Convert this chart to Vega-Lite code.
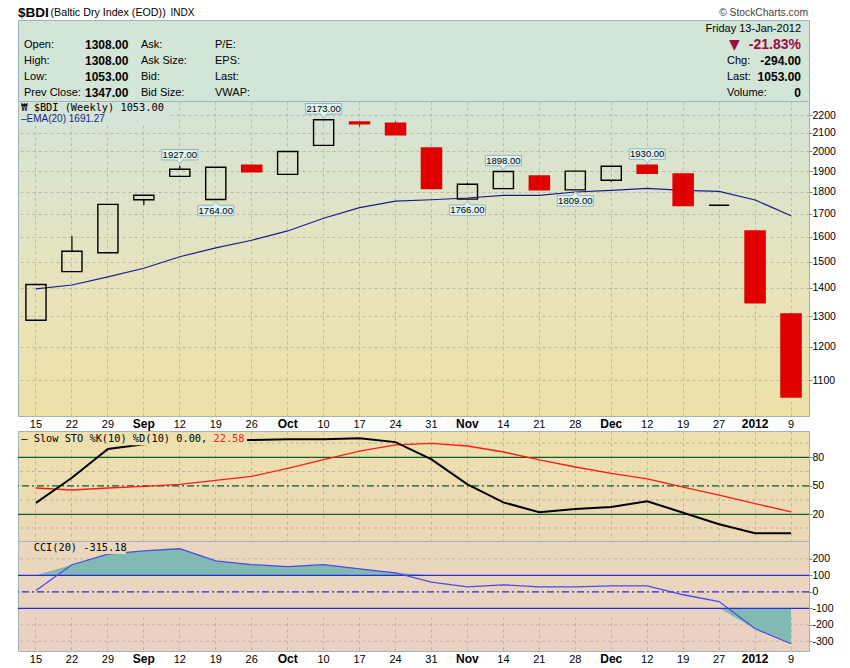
{
  "$schema": "https://vega.github.io/schema/vega-lite/v6.json",
  "background": "white",
  "padding": {"left": 16, "top": 5, "right": 0, "bottom": 0},
  "spacing": 0,
  "bounds": "flush",
  "config": {
    "font": "Liberation Sans",
    "view": {"stroke": "#9fb5bb", "strokeWidth": 1},
    "axis": {"labelFont": "Liberation Sans", "labelColor": "#000000", "labelFontSize": 10.5}
  },
  "datasets": {
    "weeks": [
      {"week": "08-15", "open": 1287, "high": 1413, "low": 1287, "close": 1413, "ema": 1397, "k": 32, "d": 47.7, "cci": 8},
      {"week": "08-22", "open": 1461, "high": 1604, "low": 1461, "close": 1541, "ema": 1411, "k": 58.5, "d": 45.6, "cci": 164},
      {"week": "08-29", "open": 1535, "high": 1742, "low": 1535, "close": 1742, "ema": 1441, "k": 88.7, "d": 47.7, "cci": 228},
      {"week": "09-05", "open": 1763, "high": 1784, "low": 1739, "close": 1784, "ema": 1474, "k": 93.7, "d": 49.5, "cci": 248},
      {"week": "09-12", "open": 1874, "high": 1927, "low": 1874, "close": 1909, "ema": 1519, "k": 96, "d": 51.6, "cci": 261},
      {"week": "09-19", "open": 1764, "high": 1919, "low": 1764, "close": 1919, "ema": 1555, "k": 97.5, "d": 55.8, "cci": 188},
      {"week": "09-26", "open": 1930, "high": 1930, "low": 1897, "close": 1897, "ema": 1586, "k": 98.2, "d": 60, "cci": 165},
      {"week": "10-03", "open": 1884, "high": 2000, "low": 1884, "close": 2000, "ema": 1625, "k": 98.9, "d": 68.4, "cci": 153},
      {"week": "10-10", "open": 2032, "high": 2173, "low": 2032, "close": 2173, "ema": 1680, "k": 98.9, "d": 77.5, "cci": 165},
      {"week": "10-17", "open": 2160, "high": 2160, "low": 2134, "close": 2150, "ema": 1727, "k": 100, "d": 86.6, "cci": 139},
      {"week": "10-24", "open": 2154, "high": 2163, "low": 2089, "close": 2089, "ema": 1757, "k": 96, "d": 93, "cci": 115},
      {"week": "10-31", "open": 2018, "high": 2018, "low": 1815, "close": 1815, "ema": 1763, "k": 77.9, "d": 94.7, "cci": 58},
      {"week": "11-07", "open": 1766, "high": 1843, "low": 1766, "close": 1836, "ema": 1771, "k": 51.6, "d": 91.9, "cci": 30},
      {"week": "11-14", "open": 1815, "high": 1898, "low": 1815, "close": 1898, "ema": 1783, "k": 32.6, "d": 85.6, "cci": 42},
      {"week": "11-21", "open": 1876, "high": 1876, "low": 1810, "close": 1810, "ema": 1783, "k": 22.1, "d": 77.2, "cci": 30},
      {"week": "11-28", "open": 1809, "high": 1900, "low": 1809, "close": 1900, "ema": 1799, "k": 25.6, "d": 69.8, "cci": 30},
      {"week": "12-05", "open": 1855, "high": 1924, "low": 1847, "close": 1924, "ema": 1807, "k": 27.7, "d": 63.2, "cci": 36},
      {"week": "12-12", "open": 1930, "high": 1930, "low": 1889, "close": 1889, "ema": 1816, "k": 33.7, "d": 57.2, "cci": 36},
      {"week": "12-19", "open": 1886, "high": 1886, "low": 1736, "close": 1736, "ema": 1807, "k": 21.7, "d": 48.7, "cci": -18},
      {"week": "12-27", "open": 1738, "high": 1738, "low": 1738, "close": 1738, "ema": 1802, "k": 9.5, "d": 40.3, "cci": -59},
      {"week": "01-03", "open": 1625, "high": 1625, "low": 1347, "close": 1347, "ema": 1762, "k": 0, "d": 31.2, "cci": -224},
      {"week": "01-09", "open": 1308, "high": 1308, "low": 1053, "close": 1053, "ema": 1691, "k": 0, "d": 22.58, "cci": -315}
    ],
    "callouts": [
      {"week": "09-12", "value": 1927, "pos": "above"},
      {"week": "09-19", "value": 1764, "pos": "below"},
      {"week": "10-10", "value": 2173, "pos": "above"},
      {"week": "11-07", "value": 1766, "pos": "below"},
      {"week": "11-14", "value": 1898, "pos": "above"},
      {"week": "11-28", "value": 1809, "pos": "below"},
      {"week": "12-12", "value": 1930, "pos": "above"}
    ],
    "info": [
      {"col": "t1", "row": -1.02, "text": "$BDI"},
      {"col": "t2", "row": -1.02, "text": "(Baltic Dry Index (EOD))"},
      {"col": "t3", "row": -1.02, "text": "INDX"},
      {"col": "cr", "row": -1.02, "text": "© StockCharts.com"},
      {"col": "k1", "row": 1, "text": "Open:"},
      {"col": "k1", "row": 2, "text": "High:"},
      {"col": "k1", "row": 3, "text": "Low:"},
      {"col": "k1", "row": 4, "text": "Prev Close:"},
      {"col": "v1", "row": 1, "text": "1308.00"},
      {"col": "v1", "row": 2, "text": "1308.00"},
      {"col": "v1", "row": 3, "text": "1053.00"},
      {"col": "v1", "row": 4, "text": "1347.00"},
      {"col": "k2", "row": 1, "text": "Ask:"},
      {"col": "k2", "row": 2, "text": "Ask Size:"},
      {"col": "k2", "row": 3, "text": "Bid:"},
      {"col": "k2", "row": 4, "text": "Bid Size:"},
      {"col": "k3", "row": 1, "text": "P/E:"},
      {"col": "k3", "row": 2, "text": "EPS:"},
      {"col": "k3", "row": 3, "text": "Last:"},
      {"col": "k3", "row": 4, "text": "VWAP:"},
      {"col": "date", "row": 0, "text": "Friday  13-Jan-2012"},
      {"col": "pct", "row": 1, "text": "-21.83%"},
      {"col": "arrow", "row": 1, "text": "▼"},
      {"col": "rk", "row": 2, "text": "Chg:"},
      {"col": "rk", "row": 3, "text": "Last:"},
      {"col": "rk", "row": 4, "text": "Volume:"},
      {"col": "rv", "row": 2, "text": "-294.00"},
      {"col": "rv", "row": 3, "text": "1053.00"},
      {"col": "rv", "row": 4, "text": "0"}
    ],
    "stoLevels": [
      {"lv": 80, "style": "solid"},
      {"lv": 50, "style": "dashdot"},
      {"lv": 20, "style": "solid"}
    ]
  },
  "vconcat": [
    {
      "width": 791,
      "height": 81,
      "view": {"fill": "#d3e5d7"},
      "data": {"name": "info"},
      "encoding": {
        "y": {"field": "row", "type": "quantitative", "scale": {"domain": [-0.5625, 4.5], "reverse": true, "nice": false, "zero": false}, "axis": null},
        "text": {"field": "text"}
      },
      "layer": [
        {"transform": [{"filter": "datum.col == 't1'"}], "mark": {"type": "text", "align": "left", "fontSize": 13.5, "fontWeight": "bold"},
         "encoding": {"x": {"datum": 0, "type": "quantitative", "scale": {"domain": [0, 791], "nice": false, "zero": false}, "axis": null}}},
        {"transform": [{"filter": "datum.col == 't2'"}], "mark": {"type": "text", "align": "left", "fontSize": 10.7},
         "encoding": {"x": {"datum": 32.5, "type": "quantitative"}}},
        {"transform": [{"filter": "datum.col == 't3'"}], "mark": {"type": "text", "align": "left", "fontSize": 10},
         "encoding": {"x": {"datum": 152.5, "type": "quantitative"}}},
        {"transform": [{"filter": "datum.col == 'cr'"}], "mark": {"type": "text", "align": "right", "fontSize": 10.3, "color": "#444444"},
         "encoding": {"x": {"datum": 790, "type": "quantitative"}}},
        {"transform": [{"filter": "datum.col == 'k1'"}], "mark": {"type": "text", "align": "left", "fontSize": 11},
         "encoding": {"x": {"datum": 6, "type": "quantitative"}}},
        {"transform": [{"filter": "datum.col == 'v1'"}], "mark": {"type": "text", "align": "left", "fontSize": 12, "fontWeight": "bold"},
         "encoding": {"x": {"datum": 67, "type": "quantitative"}}},
        {"transform": [{"filter": "datum.col == 'k2'"}], "mark": {"type": "text", "align": "left", "fontSize": 11},
         "encoding": {"x": {"datum": 123, "type": "quantitative"}}},
        {"transform": [{"filter": "datum.col == 'k3'"}], "mark": {"type": "text", "align": "left", "fontSize": 11},
         "encoding": {"x": {"datum": 197, "type": "quantitative"}}},
        {"transform": [{"filter": "datum.col == 'date'"}], "mark": {"type": "text", "align": "right", "fontSize": 11},
         "encoding": {"x": {"datum": 783, "type": "quantitative"}}},
        {"transform": [{"filter": "datum.col == 'pct'"}], "mark": {"type": "text", "align": "right", "fontSize": 14, "fontWeight": "bold", "color": "#9c0b3f"},
         "encoding": {"x": {"datum": 783, "type": "quantitative"}}},
        {"transform": [{"filter": "datum.col == 'arrow'"}], "mark": {"type": "text", "align": "center", "fontSize": 14, "font": "DejaVu Sans", "color": "#9c0b3f"},
         "encoding": {"x": {"datum": 716.5, "type": "quantitative"}}},
        {"transform": [{"filter": "datum.col == 'rk'"}], "mark": {"type": "text", "align": "left", "fontSize": 11},
         "encoding": {"x": {"datum": 709, "type": "quantitative"}}},
        {"transform": [{"filter": "datum.col == 'rv'"}], "mark": {"type": "text", "align": "right", "fontSize": 12, "fontWeight": "bold"},
         "encoding": {"x": {"datum": 783, "type": "quantitative"}}}
      ]
    },
    {
      "width": 791,
      "height": 315,
      "view": {"fill": {"gradient": "linear", "x1": 0, "y1": 0, "x2": 0, "y2": 1, "stops": [{"offset": 0, "color": "#d3e4d7"}, {"offset": 0.5, "color": "#e5e3bf"}, {"offset": 1, "color": "#eee1a7"}]}},
      "data": {"name": "weeks"},
      "encoding": {
        "x": {
          "field": "week", "type": "ordinal",
          "scale": {"type": "band", "domain": ["08-15","08-22","08-29","09-05","09-12","09-19","09-26","10-03","10-10","10-17","10-24","10-31","11-07","11-14","11-21","11-28","12-05","12-12","12-19","12-27","01-03","01-09"], "paddingInner": 0.44, "paddingOuter": 0.22},
          "axis": {
            "orient": "bottom", "title": null, "grid": true, "gridDash": [3, 3], "gridColor": "#b9bca6", "bandPosition": 0.5,
            "domain": false, "ticks": false, "labelPadding": 2, "labelAngle": 0,
            "labelExpr": "datum.value == '09-05' ? 'Sep' : datum.value == '10-03' ? 'Oct' : datum.value == '11-07' ? 'Nov' : datum.value == '12-05' ? 'Dec' : datum.value == '01-03' ? '2012' : '' + toNumber(substring(datum.value, 3, 5))",
            "labelFontWeight": {"condition": {"test": "indexof(['09-05','10-03','11-07','12-05','01-03'], datum.value) >= 0", "value": "bold"}, "value": "normal"},
            "labelFontSize": {"condition": {"test": "indexof(['09-05','10-03','11-07','12-05','01-03'], datum.value) >= 0", "value": 12}, "value": 11}
          }
        }
      },
      "layer": [
        {
          "mark": {"type": "line", "color": "#1b1b8f", "strokeWidth": 1.2},
          "encoding": {"y": {"field": "ema", "type": "quantitative", "scale": {"type": "log", "domain": [1002, 2282], "nice": false},
            "axis": {"orient": "right", "title": null, "values": [1100,1200,1300,1400,1500,1600,1700,1800,1900,2000,2100,2200], "grid": true, "gridDash": [3, 3], "gridColor": "#b9bca6", "domain": false, "tickSize": 3, "tickColor": "#7a8a90", "labelPadding": 0, "labelOverlap": false, "labelExpr": "'' + datum.value"}}}
        },
        {
          "transform": [{"filter": "datum.close >= datum.open"}],
          "mark": {"type": "rule", "color": "#000000", "strokeWidth": 1.2},
          "encoding": {"y": {"field": "high", "type": "quantitative", "scale": {"type": "log", "domain": [1002, 2282], "nice": false}}, "y2": {"field": "close"}}
        },
        {
          "transform": [{"filter": "datum.close >= datum.open"}],
          "mark": {"type": "rule", "color": "#000000", "strokeWidth": 1.2},
          "encoding": {"y": {"field": "open", "type": "quantitative", "scale": {"type": "log", "domain": [1002, 2282], "nice": false}}, "y2": {"field": "low"}}
        },
        {
          "transform": [{"filter": "datum.close < datum.open"}],
          "mark": {"type": "rule", "color": "#e00000", "strokeWidth": 1.2},
          "encoding": {"y": {"field": "high", "type": "quantitative", "scale": {"type": "log", "domain": [1002, 2282], "nice": false}}, "y2": {"field": "low"}}
        },
        {
          "mark": {"type": "bar", "strokeWidth": 1.4},
          "encoding": {
            "y": {"field": "open", "type": "quantitative", "scale": {"type": "log", "domain": [1002, 2282], "nice": false}},
            "y2": {"field": "close"},
            "fill": {"condition": {"test": "datum.close < datum.open", "value": "#e00000"}, "value": "transparent"},
            "stroke": {"condition": {"test": "datum.close < datum.open", "value": "#e00000"}, "value": "#000000"}
          }
        },
        {
          "data": {"name": "callouts"},
          "mark": {"type": "point", "filled": true, "fill": "#dcf4f3", "stroke": "#97b3bb", "strokeWidth": 1, "opacity": 1, "size": 1296},
          "encoding": {
            "y": {"field": "value", "type": "quantitative", "scale": {"type": "log", "domain": [1002, 2282], "nice": false}},
            "shape": {"field": "pos", "type": "nominal", "legend": null,
              "scale": {"domain": ["above", "below"], "range": ["M-1,-0.9H1V-0.32H0.17L0,-0.1L-0.17,-0.32H-1Z", "M-1,0.9H1V0.32H0.17L0,0.1L-0.17,0.32H-1Z"]}}
          }
        },
        {
          "data": {"name": "callouts"},
          "transform": [{"filter": "datum.pos == 'above'"}],
          "mark": {"type": "text", "dy": -11, "fontSize": 9.5, "color": "#000000"},
          "encoding": {"y": {"field": "value", "type": "quantitative", "scale": {"type": "log", "domain": [1002, 2282], "nice": false}}, "text": {"field": "value", "format": ".2f"}}
        },
        {
          "data": {"name": "callouts"},
          "transform": [{"filter": "datum.pos == 'below'"}],
          "mark": {"type": "text", "dy": 11, "fontSize": 9.5, "color": "#000000"},
          "encoding": {"y": {"field": "value", "type": "quantitative", "scale": {"type": "log", "domain": [1002, 2282], "nice": false}}, "text": {"field": "value", "format": ".2f"}}
        },
        {
          "data": {"values": [{"from": "08-15", "to": "09-12"}]},
          "mark": {"type": "rect", "fill": "#d4e4d7", "stroke": null},
          "encoding": {
            "x": {"datum": "08-15", "bandPosition": -0.35}, "x2": {"datum": "09-12", "bandPosition": -0.13},
            "y": {"datum": 2276, "type": "quantitative", "scale": {"type": "log", "domain": [1002, 2282], "nice": false}}, "y2": {"datum": 2143}
          }
        },
        {
          "data": {"values": [{"t": "₩ $BDI (Weekly) 1053.00"}]},
          "mark": {"type": "text", "align": "left", "dx": -14.7, "font": "DejaVu Sans Mono", "fontSize": 10.3, "color": "#000000"},
          "encoding": {"x": {"datum": "08-15"}, "y": {"datum": 2241, "type": "quantitative", "scale": {"type": "log", "domain": [1002, 2282], "nice": false}}, "text": {"field": "t"}}
        },
        {
          "data": {"values": [{"t": "–EMA(20) 1691.27"}]},
          "mark": {"type": "text", "align": "left", "dx": -15, "fontSize": 10, "color": "#1a1a8c"},
          "encoding": {"x": {"datum": "08-15"}, "y": {"datum": 2175, "type": "quantitative", "scale": {"type": "log", "domain": [1002, 2282], "nice": false}}, "text": {"field": "t"}}
        }
      ]
    },
    {
      "width": 791,
      "height": 15,
      "view": {"stroke": null, "fill": null},
      "data": {"values": []},
      "mark": "point"
    },
    {
      "width": 791,
      "height": 110,
      "view": {"fill": {"gradient": "linear", "x1": 0, "y1": 0, "x2": 0, "y2": 1, "stops": [{"offset": 0, "color": "#eee0ad"}, {"offset": 1, "color": "#ecd8b7"}]}},
      "data": {"name": "weeks"},
      "layer": [
        {
          "data": {"values": [{"g": 5.6}, {"g": 35}, {"g": 65}, {"g": 95}]},
          "mark": {"type": "rule", "color": "#bdb59a", "strokeDash": [3, 3], "strokeWidth": 1},
          "encoding": {
            "y": {"field": "g", "type": "quantitative", "scale": {"domain": [-8.1, 107.7], "nice": false, "zero": false},
              "axis": {"orient": "right", "title": null, "values": [20, 50, 80], "grid": false, "domain": false, "tickSize": 3, "tickColor": "#7a8a90", "labelPadding": 0, "labelOverlap": false, "labelExpr": "'' + datum.value"}}}
        },
        {
          "data": {"name": "stoLevels"},
          "mark": {"type": "rule", "color": "#00602a", "strokeWidth": 1.2},
          "encoding": {
            "y": {"field": "lv", "type": "quantitative"},
            "strokeDash": {"field": "style", "type": "nominal", "legend": null, "scale": {"domain": ["solid", "dashdot"], "range": [[1, 0], [7, 3, 2, 3]]}}
          }
        },
        {
          "mark": {"type": "line", "color": "#ff1a1a", "strokeWidth": 1.3},
          "encoding": {
            "x": {
              "field": "week", "type": "ordinal",
              "scale": {"type": "band", "domain": ["08-15","08-22","08-29","09-05","09-12","09-19","09-26","10-03","10-10","10-17","10-24","10-31","11-07","11-14","11-21","11-28","12-05","12-12","12-19","12-27","01-03","01-09"], "paddingInner": 0.44, "paddingOuter": 0.22},
              "axis": {"title": null, "grid": true, "gridDash": [3, 3], "gridColor": "#bdb59a", "bandPosition": 0.5, "domain": false, "ticks": false, "labels": false}
            },
            "y": {"field": "d", "type": "quantitative"}
          }
        },
        {
          "mark": {"type": "line", "color": "#000000", "strokeWidth": 2},
          "encoding": {"x": {"field": "week", "type": "ordinal"}, "y": {"field": "k", "type": "quantitative"}}
        },
        {
          "data": {"values": [{"from": "08-15", "to": "09-26"}]},
          "mark": {"type": "rect", "fill": "#eee0ad", "stroke": null},
          "encoding": {
            "x": {"datum": "08-15", "bandPosition": -0.35}, "x2": {"datum": "09-26", "bandPosition": 0.27},
            "y": {"datum": 106.6, "type": "quantitative"}, "y2": {"datum": 92.6}
          }
        },
        {
          "data": {"values": [{"t": "— Slow STO %K(10) %D(10) 0.00,"}]},
          "mark": {"type": "text", "align": "left", "dx": -14.7, "font": "DejaVu Sans Mono", "fontSize": 10.3, "color": "#000000"},
          "encoding": {"x": {"datum": "08-15"}, "y": {"datum": 99.6, "type": "quantitative"}, "text": {"field": "t"}}
        },
        {
          "data": {"values": [{"t": "22.58"}]},
          "mark": {"type": "text", "align": "left", "dx": 177.5, "font": "DejaVu Sans Mono", "fontSize": 10.3, "color": "#ff1a1a"},
          "encoding": {"x": {"datum": "08-15"}, "y": {"datum": 99.6, "type": "quantitative"}, "text": {"field": "t"}}
        }
      ]
    },
    {
      "width": 791,
      "height": 110,
      "view": {"fill": {"gradient": "linear", "x1": 0, "y1": 0, "x2": 0, "y2": 1, "stops": [{"offset": 0, "color": "#ebd7bd"}, {"offset": 1, "color": "#e9d1c3"}]}},
      "data": {"name": "weeks"},
      "resolve": {"scale": {"y": "independent"}, "axis": {"y": "independent"}},
      "layer": [
        {
          "data": {"values": [{"g": 200}, {"g": -200}, {"g": -300}]},
          "mark": {"type": "rule", "color": "#c2b4a0", "strokeDash": [3, 3], "strokeWidth": 1},
          "encoding": {
            "y": {"field": "g", "type": "quantitative", "scale": {"domain": [-359, 308], "nice": false, "zero": false},
              "axis": {"orient": "right", "title": null, "values": [-300, -200, -100, 0, 100, 200], "grid": false, "domain": false, "tickSize": 3, "tickColor": "#7a8a90", "labelPadding": 0, "labelOverlap": false, "labelExpr": "'' + datum.value"}}}
        },
        {
          "mark": {"type": "area", "color": "#80bab3", "opacity": 1},
          "encoding": {
            "x": {
              "field": "week", "type": "ordinal",
              "scale": {"type": "band", "domain": ["08-15","08-22","08-29","09-05","09-12","09-19","09-26","10-03","10-10","10-17","10-24","10-31","11-07","11-14","11-21","11-28","12-05","12-12","12-19","12-27","01-03","01-09"], "paddingInner": 0.44, "paddingOuter": 0.22},
              "axis": {
                "orient": "bottom", "title": null, "grid": true, "gridDash": [3, 3], "gridColor": "#c2b4a0", "bandPosition": 0.5,
                "domain": false, "ticks": false, "labelPadding": 2, "labelAngle": 0,
                "labelExpr": "datum.value == '09-05' ? 'Sep' : datum.value == '10-03' ? 'Oct' : datum.value == '11-07' ? 'Nov' : datum.value == '12-05' ? 'Dec' : datum.value == '01-03' ? '2012' : '' + toNumber(substring(datum.value, 3, 5))",
                "labelFontWeight": {"condition": {"test": "indexof(['09-05','10-03','11-07','12-05','01-03'], datum.value) >= 0", "value": "bold"}, "value": "normal"},
                "labelFontSize": {"condition": {"test": "indexof(['09-05','10-03','11-07','12-05','01-03'], datum.value) >= 0", "value": 12}, "value": 11}
              }
            },
            "y": {"field": "cci", "type": "quantitative", "scale": {"domain": [100, 308], "range": [34.3, 0], "clamp": true, "nice": false, "zero": false}, "axis": null},
            "y2": {"datum": 100}
          }
        },
        {
          "mark": {"type": "area", "color": "#80bab3", "opacity": 1},
          "encoding": {
            "x": {"field": "week", "type": "ordinal"},
            "y": {"field": "cci", "type": "quantitative", "scale": {"domain": [-359, -100], "range": [110, 67.29], "clamp": true, "nice": false, "zero": false}, "axis": null},
            "y2": {"datum": -100}
          }
        },
        {
          "layer": [
            {
              "data": {"values": [{"lv": 100}, {"lv": -100}]},
              "mark": {"type": "rule", "color": "#2b2bd9", "strokeWidth": 1.2},
              "encoding": {"y": {"field": "lv", "type": "quantitative", "scale": {"domain": [-359, 308], "nice": false, "zero": false}, "axis": null}}
            },
            {
              "data": {"values": [{"lv": 0}]},
              "mark": {"type": "rule", "color": "#2b2bd9", "strokeWidth": 1.2, "strokeDash": [7, 3, 2, 3]},
              "encoding": {"y": {"field": "lv", "type": "quantitative"}}
            },
            {
              "mark": {"type": "line", "color": "#4b4be6", "strokeWidth": 1.3},
              "encoding": {"x": {"field": "week", "type": "ordinal"}, "y": {"field": "cci", "type": "quantitative"}}
            },
            {
              "data": {"values": [{"from": "08-15", "to": "09-05"}]},
              "mark": {"type": "rect", "fill": "#ebd7bd", "stroke": null},
              "encoding": {
                "x": {"datum": "08-15", "bandPosition": -0.35}, "x2": {"datum": "09-05", "bandPosition": -0.39},
                "y": {"datum": 302, "type": "quantitative"}, "y2": {"datum": 229}
              }
            },
            {
              "data": {"values": [{"t": "CCI(20) -315.18"}]},
              "mark": {"type": "text", "align": "left", "dx": -2.3, "font": "DejaVu Sans Mono", "fontSize": 10.3, "color": "#000000"},
              "encoding": {"x": {"datum": "08-15"}, "y": {"datum": 263.7, "type": "quantitative"}, "text": {"field": "t"}}
            }
          ]
        }
      ]
    }
  ]
}
